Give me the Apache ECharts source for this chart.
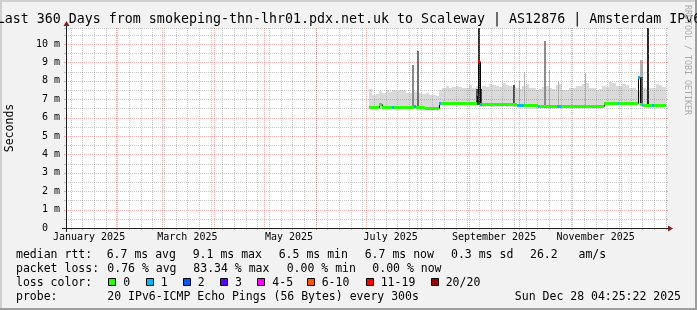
<!DOCTYPE html>
<html><head><meta charset="utf-8">
<script src="https://cdn.jsdelivr.net/npm/echarts@6.0.0/dist/echarts.min.js"></script>
<style>html,body{margin:0;padding:0;background:#f2f2f2;overflow:hidden}#c{width:697px;height:310px}</style>
</head><body><div id="c"></div>
<script>
// ---------------- DATA ----------------
const windowStart = '2025-01-02T04:25:22Z';
const windowDays = 360;
const yMaxMs = 10.87;

const titleText = 'Last 360 Days from smokeping-thn-lhr01.pdx.net.uk to Scaleway | AS12876 | Amsterdam IPv6';
const xLabelMonths = ['2025-01-01','2025-03-01','2025-05-01','2025-07-01','2025-09-01','2025-11-01'];
const xLabelTexts = ['January 2025','March 2025','May 2025','July 2025','September 2025','November 2025'];
const majorGridMonths = ['2025-02-01','2025-03-01','2025-04-01','2025-05-01','2025-06-01','2025-07-01','2025-08-01','2025-09-01','2025-10-01','2025-11-01','2025-12-01'];
const yTickValues = [0,1,2,3,4,5,6,7,8,9,10];
const yTickLabels = ['0  ','1 m','2 m','3 m','4 m','5 m','6 m','7 m','8 m','9 m','10 m'];

// smoke (ms), 2-day bins starting at day 181.8 of the window
const smokeFirstDay = 181.8;
const smokeBinDays = 2;
const smokeLo = [6.46,6.47,6.45,6.46,6.46,6.47,6.46,6.45,6.46,6.47,6.46,6.46,6.47,6.45,6.46,6.44,6.42,6.4,6.4,6.41,6.4,
  6.68,6.68,6.67,6.68,6.68,6.67,6.68,6.68,6.67,6.68,6.68,6.67,
  6.6,6.6,6.61,6.6,6.6,6.6,6.6,6.61,6.6,6.58,6.57,6.56,6.56,6.57,6.56,6.56,6.55,6.54,
  6.52,6.52,6.51,6.52,6.52,6.52,6.51,6.52,6.52,6.52,6.51,6.52,6.52,6.52,6.51,6.52,6.52,6.53,6.54,
  6.66,6.66,6.66,6.67,6.66,6.66,6.66,6.67,6.66,6.66,6.66,6.62,6.6,6.6,6.6,6.6,6.61,6.6,6.6];
const smokeHi = [7.55,7.25,7.28,7.43,7.35,7.5,7.38,7.52,7.43,7.52,
  7.5,7.36,7.34,7.4,7.38,7.34,7.3,7.36,7.24,7.22,
  7.15,7.52,7.6,7.72,7.6,7.65,7.72,7.68,7.6,7.63,
  7.75,7.62,7.7,7.6,7.72,7.68,7.8,7.75,7.7,7.65,
  7.88,7.75,7.7,7.68,7.6,7.58,7.7,7.82,7.6,7.62,
  7.5,7.55,7.68,7.7,7.62,7.58,7.78,7.8,7.52,7.5,
  7.6,7.62,7.7,7.72,7.85,7.88,7.6,7.62,7.52,7.55,
  7.7,7.68,7.92,7.88,7.7,7.72,7.8,7.78,7.6,7.62,
  7.52,7.5,7.6,7.55,7.6,7.62,7.8,7.75,7.68];

// isolated high-RTT spikes (days of window, ms), density 1 (few pings) .. 5 (many)
const spikeStart = [207.4,210.4,246.2,247.4,268.2,271.5,274.5,286.8,289.5,294.9,311.1,344.1,344.7,348.4];
const spikeEnd   = [208.8,211.8,249.8,248.4,269.4,272.1,275.1,287.7,290.1,295.5,311.7,346.2,346.2,350.0];
const spikeLo    = [6.62,6.62,6.7,6.8,6.7,6.7,6.7,6.7,6.7,6.66,6.64,6.72,6.72,6.62];
const spikeHi    = [8.86,9.64,7.55,14,7.75,7.97,8.5,10.14,8.6,7.95,8.4,9.14,8.2,14];
const spikeDensity = [2,3,4,5,4,1,1,2,1,1,1,1,4,5];

// median rtt segments: start day, value (ms), loss bucket
const medStart = [181.8,188.0,189.6,195.4,196.6,207.0,208.8,210.0,212.4,215.5,222.4,223.6,224.8,246.4,247.4,248.4,249.4,270.4,274.6,283.0,284.0,294.8,296.8,318.5,322.5,331.0,331.8,343.4,344.6,345.4,346.4,351.6,352.6];
const medValue = [6.58,6.76,6.58,6.58,6.58,6.6,6.62,6.6,6.56,6.5,6.53,6.8,6.8,7.3,9.08,6.75,6.73,6.68,6.68,6.63,6.63,6.61,6.61,6.64,6.78,6.78,6.78,8.2,6.74,6.72,6.7,6.68,6.7];
const medLoss  = [0,0,0,1,0,0,1,0,0,0,0,1,0,4,6,1,0,1,0,1,0,1,0,0,0,1,0,1,0,1,0,1,0];

// legend
const lossLabels = ['0','1','2','3','4-5','6-10','11-19','20/20'];
const statsRow1 = ['median rtt:','6.7 ms avg','9.1 ms max','6.5 ms min','6.7 ms now','0.3 ms sd','26.2   am/s'];
const statsRow2 = ['packet loss:','0.76 % avg','83.34 % max','0.00 % min','0.00 % now'];
const probeRow = ['probe:','20 IPv6-ICMP Echo Pings (56 Bytes) every 300s','Sun Dec 28 04:25:22 2025'];

// ---------------- STYLE / LAYOUT ----------------
const lossColors = ['#26ff00','#00b8ff','#0059ff','#5e00ff','#ff00ff','#ff5500','#ff0000','#a10000'];
const densityColors = ['#dadada','#b4b4b4','#8c8c8c','#6e6e6e','#4a4a4a','#2a2a2a'];
const MONO = 'DejaVu Sans Mono';
const row1X = [16,106.7,192.7,278.7,364.7,451,530];
const row2X = [16,107.3,193.3,286.7,372.3];
const squareX = [108.3,145.7,182.7,220,257.3,306.7,365.7,430.7];
const probeX = [16,107.3];

const DAYMS = 86400000;
const T0 = Date.parse(windowStart);
const dayOf = s => (Date.parse(s + 'T00:00:00Z') - T0) / DAYMS;

// grid line positions
const gridItems = [];
majorGridMonths.forEach(m => gridItems.push([0, dayOf(m), 1]));
{ // weekly minor grid on Sundays
  let t = Date.UTC(2025,0,5);
  while ((t - T0) / DAYMS < windowDays) { gridItems.push([0, (t - T0) / DAYMS, 0]); t += 7 * DAYMS; }
}
for (let v = 0.5; v < yMaxMs; v += 0.5) gridItems.push([1, v, Number.isInteger(v) ? 1 : 0]);
gridItems.push([1, yMaxMs, 0]);
gridItems.sort((a, b) => a[2] - b[2]);

const xLabelDays = xLabelMonths.map(m => dayOf(m) + 15);

const smokeData = smokeHi.map((h, i) => [smokeFirstDay + i * smokeBinDays, smokeFirstDay + (i + 1) * smokeBinDays, smokeLo[i], h]);
const spikeData = spikeStart.map((s, i) => [s, spikeEnd[i], spikeLo[i], spikeHi[i], spikeDensity[i]]);
const medData = medStart.map((s, i) => [s, i + 1 < medStart.length ? medStart[i + 1] : windowDays, medValue[i], medLoss[i], i > 0 ? medValue[i - 1] : medValue[i]]);

const snap = Math.round;
function bandItem(params, api) {
  const cs = params.coordSys;
  const a = api.coord([api.value(0), api.value(3)]);
  const b = api.coord([api.value(1), api.value(2)]);
  const top = Math.max(cs.y, snap(a[1])), bottom = snap(b[1]);
  const x0 = snap(a[0]), x1 = snap(b[0]);
  const dens = params.seriesIndex === 1 ? api.value(4) : 0;
  return { type: 'rect', shape: { x: x0, y: top, width: Math.max(1, x1 - x0), height: bottom - top }, style: { fill: densityColors[dens] } };
}
function stepItem(params, api) {
  const a = api.coord([api.value(0), api.value(2)]);
  const b = api.coord([api.value(1), api.value(2)]);
  const p = api.coord([api.value(0), api.value(4)]);
  const x0 = snap(a[0]), x1 = snap(b[0]), y = snap(a[1]), yp = snap(p[1]);
  return { type: 'group', children: [
    { type: 'line', shape: { x1: x0, y1: y + 0.5, x2: x1, y2: y + 0.5 }, style: { stroke: '#000', lineWidth: 1 } },
    { type: 'line', shape: { x1: x0 + 0.5, y1: yp + 0.5, x2: x0 + 0.5, y2: y + 0.5 }, style: { stroke: '#000', lineWidth: 1 } }
  ]};
}
function medianItem(params, api) {
  const a = api.coord([api.value(0), api.value(2)]);
  const b = api.coord([api.value(1), api.value(2)]);
  const x0 = snap(a[0]), x1 = snap(b[0]), y = snap(a[1]);
  return { type: 'rect', shape: { x: x0, y: y - 1, width: Math.max(1, x1 - x0), height: 3 }, style: { fill: lossColors[api.value(3)] } };
}
function gridItem(params, api) {
  const cs = params.coordSys;
  const kind = api.value(0), v = api.value(1), major = api.value(2);
  const col = major ? 'rgba(222,79,79,0.45)' : 'rgba(143,143,143,0.5)';
  const kids = [];
  if (kind === 0) {
    const x = snap(api.coord([v, 0])[0]) + 0.5;
    kids.push({ type: 'line', shape: { x1: x, y1: cs.y, x2: x, y2: cs.y + cs.height }, style: { stroke: col, lineWidth: 1, lineDash: [1, 1] } });
    kids.push({ type: 'line', shape: { x1: x, y1: cs.y + cs.height, x2: x, y2: cs.y + cs.height + 2 }, style: { stroke: col, lineWidth: 1 } });
  } else {
    const y = snap(api.coord([0, v])[1]) + 0.5;
    kids.push({ type: 'line', shape: { x1: cs.x, y1: y, x2: cs.x + cs.width, y2: y }, style: { stroke: col, lineWidth: 1, lineDash: [1, 1] } });
    kids.push({ type: 'line', shape: { x1: cs.x - 2, y1: y, x2: cs.x, y2: y }, style: { stroke: col, lineWidth: 1 } });
    kids.push({ type: 'line', shape: { x1: cs.x + cs.width, y1: y, x2: cs.x + cs.width + 2, y2: y }, style: { stroke: col, lineWidth: 1 } });
  }
  return { type: 'group', children: kids };
}
function frameItem(params, api) {
  const cs = params.coordSys;
  const x0 = cs.x, y0 = cs.y + cs.height, x1 = cs.x + cs.width, yt = cs.y;
  return { type: 'group', children: [
    { type: 'line', shape: { x1: x0 - 4, y1: y0 + 0.5, x2: x1 + 4, y2: y0 + 0.5 }, style: { stroke: '#1f1f1f', lineWidth: 1 } },
    { type: 'line', shape: { x1: x0 + 0.5, y1: y0 + 4, x2: x0 + 0.5, y2: yt - 4 }, style: { stroke: '#1f1f1f', lineWidth: 1 } },
    { type: 'polygon', shape: { points: [[x1 + 2, y0 - 2.5], [x1 + 2, y0 + 3.5], [x1 + 7, y0 + 0.5]] }, style: { fill: '#801f1f' } },
    { type: 'polygon', shape: { points: [[x0 - 2.5, yt - 2], [x0 + 3.5, yt - 2], [x0 + 0.5, yt - 7]] }, style: { fill: '#801f1f' } }
  ]};
}

function txt(text, x, y, size, extra) {
  return Object.assign({ type: 'text', x: x, y: y, silent: true, z: 100,
    style: Object.assign({ text: text, fontFamily: MONO, fontSize: size, fill: '#000', align: 'left', verticalAlign: 'middle', textAlign: 'left', textVerticalAlign: 'middle' }, extra && extra.style) },
    extra && extra.el);
}

const graphics = [
  { type: 'rect', shape: { x: 0, y: 0, width: 697, height: 2 }, style: { fill: '#cfcfcf' }, silent: true },
  { type: 'rect', shape: { x: 0, y: 0, width: 2, height: 310 }, style: { fill: '#cfcfcf' }, silent: true },
  { type: 'rect', shape: { x: 0, y: 308, width: 697, height: 2 }, style: { fill: '#9e9e9e' }, silent: true },
  { type: 'rect', shape: { x: 695, y: 0, width: 2, height: 310 }, style: { fill: '#9e9e9e' }, silent: true },
  txt(titleText, 349, 20, 13.3, { style: { align: 'center', textAlign: 'center' } }),
  txt('RRDTOOL / TOBI OETIKER', 687.5, 60, 8.3, { style: { align: 'center', textAlign: 'center', fill: '#a9a9a9' }, el: { rotation: -Math.PI / 2 } }),
  txt('Seconds', 10.5, 128, 11.5, { style: { align: 'center', textAlign: 'center' }, el: { rotation: Math.PI / 2 } })
];
statsRow1.forEach((s, i) => graphics.push(txt(s, row1X[i], 255, 11.5)));
statsRow2.forEach((s, i) => graphics.push(txt(s, row2X[i], 269, 11.5)));
graphics.push(txt('loss color:', 16, 283, 11.5));
lossLabels.forEach((s, i) => {
  graphics.push({ type: 'rect', shape: { x: Math.round(squareX[i]) + 0.5, y: 278.5, width: 7, height: 7 }, style: { fill: lossColors[i], stroke: '#000', lineWidth: 1 }, silent: true, z: 100 });
  graphics.push(txt(s, squareX[i] + 15, 283, 11.5));
});
graphics.push(txt(probeRow[0], probeX[0], 297, 11.5));
graphics.push(txt(probeRow[1], probeX[1], 297, 11.5));
graphics.push(txt(probeRow[2], 681, 297, 11.5, { style: { align: 'right', textAlign: 'right' } }));

const chart = echarts.init(document.getElementById('c'));
chart.setOption({
  animation: false,
  backgroundColor: '#f2f2f2',
  grid: { left: 66, top: 28, width: 600, height: 200, show: true, backgroundColor: '#ffffff', borderWidth: 0 },
  xAxis: { type: 'value', min: 0, max: windowDays,
    axisLine: { show: false }, axisTick: { show: false }, splitLine: { show: false },
    axisLabel: { customValues: xLabelDays, hideOverlap: false, showMinLabel: true, showMaxLabel: true,
      formatter: v => { const k = xLabelDays.findIndex(d => Math.abs(d - v) < 1e-6); return k >= 0 ? xLabelTexts[k] : ''; },
      fontFamily: MONO, fontSize: 10, color: '#000', margin: 4 } },
  yAxis: { type: 'value', min: 0, max: yMaxMs, interval: 1,
    axisLine: { show: false }, axisTick: { show: false }, splitLine: { show: false },
    axisLabel: { showMaxLabel: false,
      formatter: v => { const k = yTickValues.indexOf(v); return k >= 0 ? yTickLabels[k] : ''; },
      fontFamily: MONO, fontSize: 10, color: '#000', margin: 6 } },
  series: [
    { type: 'custom', name: 'smoke', z: 2, silent: true, renderItem: bandItem, data: smokeData, encode: { x: [0, 1], y: [2, 3] } },
    { type: 'custom', name: 'spikes', z: 3, silent: true, renderItem: bandItem, data: spikeData, encode: { x: [0, 1], y: [2, 3] } },
    { type: 'custom', name: 'grid', z: 4, silent: true, renderItem: gridItem, data: gridItems, encode: { x: 1, y: 1 } },
    { type: 'custom', name: 'median-step', z: 5, silent: true, renderItem: stepItem, data: medData, encode: { x: [0, 1], y: 2 } },
    { type: 'custom', name: 'median', z: 6, silent: true, renderItem: medianItem, data: medData, encode: { x: [0, 1], y: 2 } },
    { type: 'custom', name: 'frame', z: 7, silent: true, renderItem: frameItem, data: [[0, 0]] }
  ],
  graphic: graphics
});
</script></body></html>
